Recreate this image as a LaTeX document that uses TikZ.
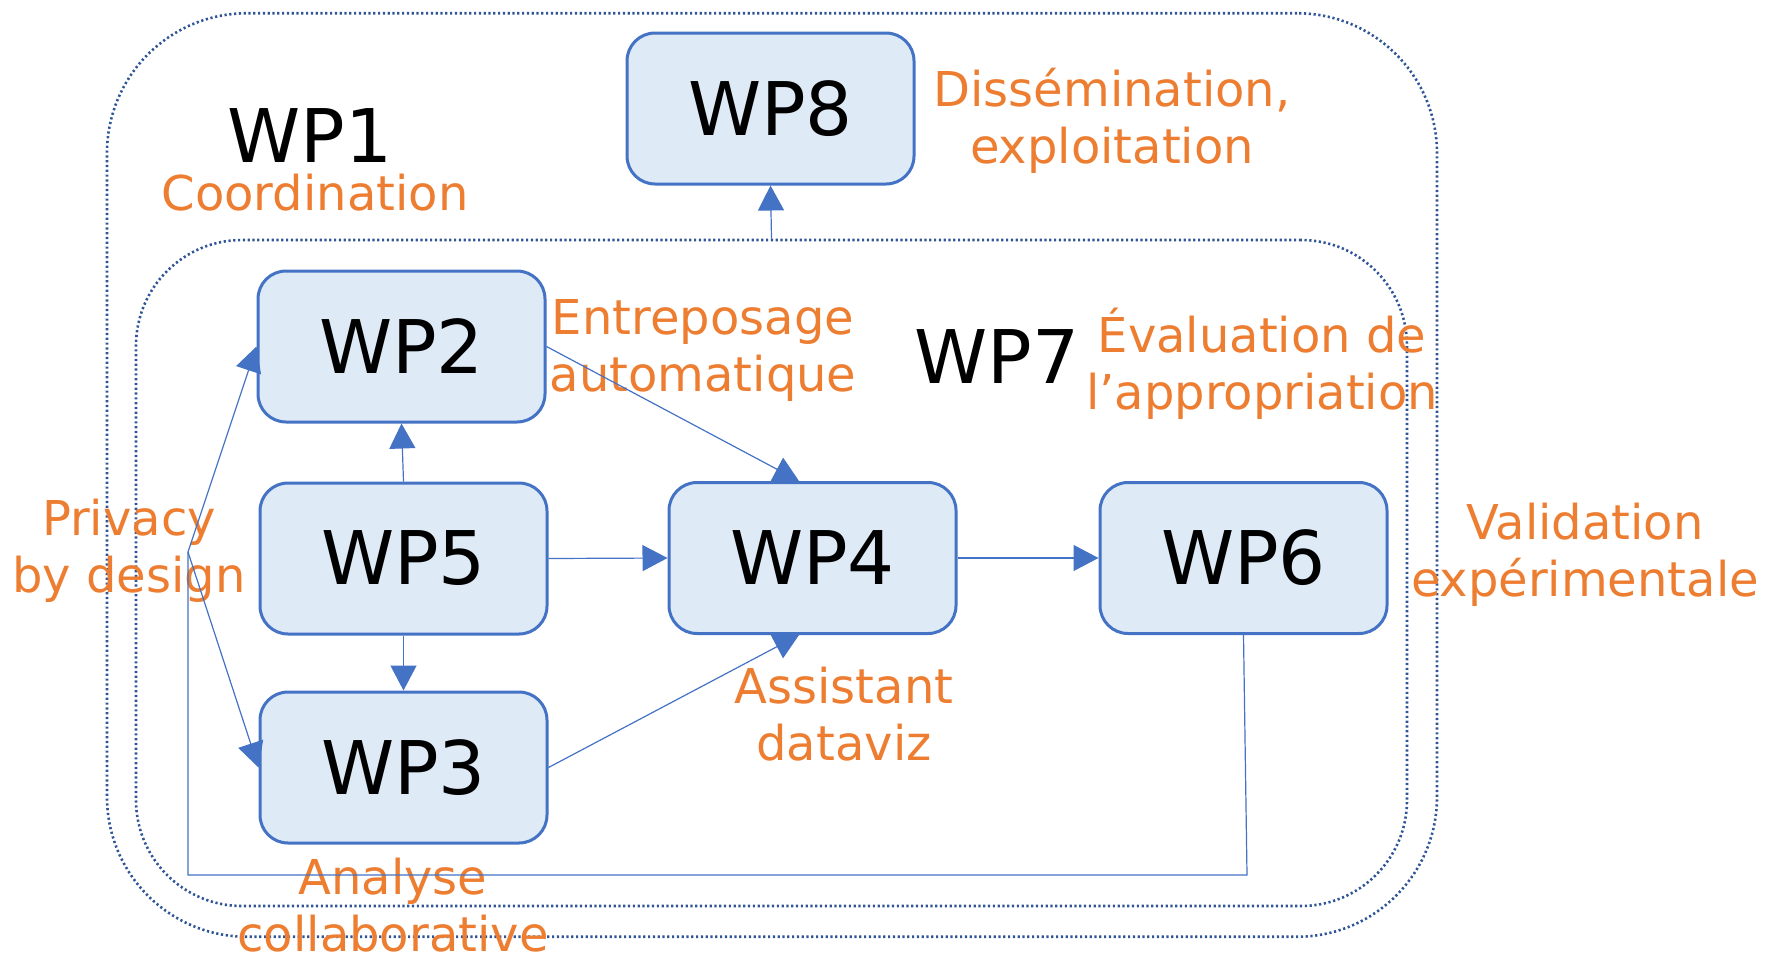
\documentclass[tikz,border=0pt]{standalone}
\usepackage{fontspec}
\setmainfont{DejaVu Sans}
\usetikzlibrary{arrows.meta,calc}
\definecolor{wpblue}{HTML}{4472C4}
\definecolor{wpfill}{HTML}{DEEAF6}
\definecolor{wporange}{HTML}{ED7D31}
\definecolor{framecol}{HTML}{2F5597}
\tikzset{
  wpbox/.style={draw=wpblue, line width=1.5pt, fill=wpfill, rounded corners=14pt,
    minimum width=143.5pt, minimum height=75.5pt, inner sep=0pt,
    font=\fontsize{37}{44}\selectfont},
  wplabel/.style={inner sep=0pt, font=\fontsize{37}{44}\selectfont},
  otext/.style={inner sep=0pt, align=center, text=wporange, font=\fontsize{24}{28.7}\selectfont},
  frame/.style={draw=framecol, line width=1.3pt, dash pattern=on 1.1pt off 1.3pt, inner sep=0pt},
  conn/.style={draw=wpblue, line width=0.6pt},
  arr/.style={conn, -{Triangle[length=12.5pt,width=13pt]}}
}
\begin{document}
\begin{tikzpicture}[x=0.5pt,y=-0.5pt]
\useasboundingbox (0,0) rectangle (1765,953);
% frames
\node[frame, rounded corners=70pt, minimum width=665pt, minimum height=461.75pt] (outer) at (772,475) {};
\node[frame, rounded corners=53pt, minimum width=635.5pt, minimum height=333pt] (inner) at (771.5,573) {};
% boxes
\node[wpbox] (WP8) at (770.5,108.5) {WP8};
\node[wpbox] (WP2) at (401.5,346.5) {WP2};
\node[wpbox] (WP5) at (403.5,558.5) {WP5};
\node[wpbox] (WP3) at (403.5,767.5) {WP3};
\node[wpbox] (WP4) at (812.5,558) {WP4};
\node[wpbox] (WP6) at (1243.5,558) {WP6};
% labels
\node[wplabel] (WP1) at (310,136) {WP1};
\node[wplabel] (WP7) at (997,357) {WP7};
\node[otext] (coord) at (315,193) {Coordination};
\node[otext] (diss) at (1112,120.5) {Dissémination,\\exploitation};
\node[otext] (entr) at (703,350.5) {Entreposage\\automatique};
\node[otext] (eval) at (1262,363.5) {Évaluation de\\l’appropriation};
\node[otext] (priv) at (129,551) {Privacy\\by design};
\node[otext] (valid) at (1585,554.5) {Validation\\expérimentale};
\node[otext] (assist) at (844,714) {Assistant\\dataviz};
\node[otext] (analyse) at (393,905) {Analyse\\collaborative};
% connectors
\draw[arr] (WP5.north) -- (WP2.south);
\draw[arr] (WP5.south) -- (WP3.north);
\draw[arr] (WP5.east) -- (WP4.west);
\draw[arr] (WP2.east) -- ([xshift=-6.75pt]WP4.north);
\draw[arr] (WP3.east) -- ([xshift=-6.75pt]WP4.south);
\draw[arr] (WP4.east) -- (WP6.west);
\draw[arr] (inner.north) -- (WP8.south);
\coordinate (c1) at (1247,875);
\coordinate (c2) at (188,875);
\coordinate (j) at (188,552);
\draw[conn] (WP6.south) -- (c1) -- (c2) -- (j);
\draw[arr] (j) -- (WP2.west);
\draw[arr] (j) -- (WP3.west);
\end{tikzpicture}
\end{document}
